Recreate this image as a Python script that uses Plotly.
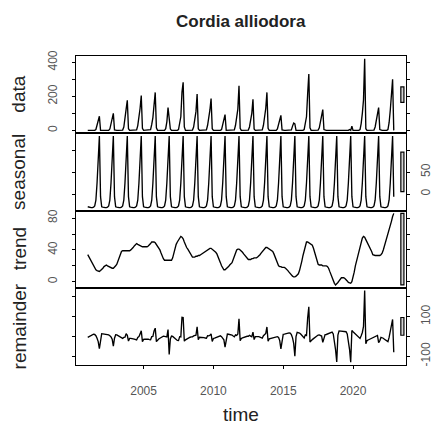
import plotly.graph_objects as go

# ---------------- data (monthly, Jan..Dec) ----------------
start_year = 2001
data_by_year = {
    2001: [0, 0, 0, 0, 0, 0, 0, 5, 30, 59, 83, 0],
    2002: [0, 0, 0, 0, 0, 0, 0, 8, 40, 75, 100, 3],
    2003: [0, 0, 0, 0, 0, 0, 2, 20, 60, 125, 177, 10],
    2004: [0, 0, 0, 0, 0, 0, 3, 28, 70, 130, 205, 12],
    2005: [0, 0, 0, 0, 0, 0, 4, 35, 75, 150, 223, 15],
    2006: [0, 0, 0, 0, 0, 0, 0, 10, 50, 134, 68, 8],
    2007: [0, 0, 0, 0, 0, 0, 5, 40, 80, 225, 282, 20],
    2008: [0, 0, 0, 0, 0, 0, 2, 20, 60, 110, 213, 10],
    2009: [0, 0, 0, 0, 0, 0, 3, 30, 70, 120, 187, 10],
    2010: [0, 0, 0, 0, 0, 0, 0, 5, 35, 70, 93, 0],
    2011: [0, 0, 0, 0, 0, 0, 3, 30, 70, 125, 262, 12],
    2012: [0, 0, 0, 0, 0, 0, 2, 20, 55, 100, 183, 8],
    2013: [0, 0, 0, 0, 0, 0, 3, 30, 75, 130, 223, 12],
    2014: [0, 0, 0, 0, 0, 0, 0, 8, 40, 70, 88, 3],
    2015: [0, 0, 0, 0, 0, 0, 0, 3, 25, 43, 38, 0],
    2016: [0, 0, 0, 0, 0, 0, 5, 40, 80, 215, 331, 15],
    2017: [0, 0, 0, 0, 0, 0, 2, 15, 50, 95, 122, 5],
    2018: [0, 0, 0, 0, 0, 0, 0, 0, 0, 0, 0, 0],
    2019: [0, 0, 0, 0, 0, 0, 0, 0, 0, 5, 0, 24],
    2020: [0, 0, 0, 0, 0, 0, 5, 40, 100, 180, 420, 10],
    2021: [0, 0, 0, 0, 0, 0, 2, 20, 60, 110, 134, 5],
    2022: [0, 0, 0, 0, 0, 0, 5, 45, 118, 190, 300, 0],
}

trend_by_year = {
    2001: [34, 31, 28, 25, 22, 19, 17, 15, 14, 13, 13, 14],
    2002: [15, 17, 19, 20, 21, 20, 19, 18, 17, 17, 17, 18],
    2003: [20, 22, 26, 30, 34, 38, 39, 39, 39, 39, 39, 39],
    2004: [39, 40, 41, 43, 45, 47, 48, 47, 46, 45, 44, 44],
    2005: [44, 44, 44, 44, 45, 46, 48, 50, 50, 50, 49, 47],
    2006: [45, 43, 40, 36, 32, 29, 27, 27, 27, 27, 27, 27],
    2007: [27, 30, 36, 42, 47, 50, 53, 55, 57, 56, 54, 50],
    2008: [46, 43, 41, 38, 35, 32, 31, 31, 31, 32, 32, 33],
    2009: [33, 34, 35, 36, 37, 38, 39, 40, 42, 42, 42, 41],
    2010: [39, 38, 37, 35, 32, 28, 24, 20, 17, 15, 15, 16],
    2011: [17, 19, 21, 22, 24, 28, 32, 36, 40, 41, 41, 40],
    2012: [39, 37, 35, 33, 31, 29, 28, 28, 28, 29, 29, 30],
    2013: [30, 30, 31, 32, 34, 36, 38, 40, 42, 43, 43, 42],
    2014: [41, 40, 39, 38, 35, 31, 27, 23, 20, 19, 19, 18],
    2015: [18, 18, 17, 16, 14, 12, 10, 8, 7, 6, 6, 7],
    2016: [8, 10, 14, 19, 26, 33, 40, 46, 50, 50, 49, 49],
    2017: [48, 46, 42, 37, 31, 25, 22, 21, 21, 21, 20, 20],
    2018: [20, 20, 19, 17, 13, 9, 5, 1, -2, -4, -3, -1],
    2019: [1, 3, 5, 5, 5, 4, 3, 1, -1, -2, -2, 0],
    2020: [5, 12, 20, 26, 30, 35, 42, 50, 55, 57, 56, 53],
    2021: [50, 48, 46, 42, 38, 34, 33, 33, 33, 33, 33, 33],
    2022: [34, 36, 40, 45, 50, 55, 58, 64, 70, 76, 82, 86],
}

# periodic seasonal component (Jan..Dec)
seasonal_pattern = [-29, -30, -31, -31, -31, -30, -27, -14, 25, 72, 132, -6]

x_tick_vals = [2005, 2010, 2015, 2020]
y_ticks = {
    "data": ([0, 100, 200, 300, 400], ["0", "", "200", "", "400"]),
    "seasonal": ([0, 50, 100], ["0", "50", ""]),
    "trend": ([0, 20, 40, 60, 80], ["0", "", "40", "", "80"]),
    "remainder": ([-100, 0, 100, 200], ["-100", "", "100", ""]),
}
panel_names = ["data", "seasonal", "trend", "remainder"]
title_text = "Cordia alliodora"
x_title = "time"

# ---------------- assemble series ----------------
years = sorted(data_by_year)
data = [v for y in years for v in data_by_year[y]]
trend = [v for y in years for v in trend_by_year[y]]
seasonal = seasonal_pattern * len(years)
remainder = [d - s - t for d, s, t in zip(data, seasonal, trend)]
time = [start_year + i / 12 for i in range(len(data))]
series = {"data": data, "seasonal": seasonal, "trend": trend, "remainder": remainder}

# ---------------- layout geometry (pixels) ----------------
W, H = 433, 429
left, right = 75.5, 406
top, bottom = 56, 365
ph = (bottom - top) / 4

t0, t1 = time[0], time[-1]
xpad = 0.04 * (t1 - t0)
xr = [t0 - xpad, t1 + xpad]

mx = min(max(v) - min(v) for v in series.values())
dx = (xr[1] - xr[0]) / 64

fig = go.Figure()
shapes = []
annotations = []
FONT = "Liberation Sans, Arial, sans-serif"
tickfont = dict(family=FONT, size=12, color="#555")

for k, name in enumerate(panel_names):
    vals = series[name]
    lo, hi = min(vals), max(vals)
    r = hi - lo
    yr = [lo - 0.04 * r, hi + 0.04 * r]
    sfx = "" if k == 0 else str(k + 1)
    fig.add_trace(go.Scatter(x=time, y=vals, mode="lines",
                             line=dict(color="black", width=1.35),
                             xaxis="x" + sfx, yaxis="y" + sfx,
                             showlegend=False, hoverinfo="skip"))
    pt = top + k * ph
    pb = top + (k + 1) * ph
    last = (k == 3)
    xa = dict(domain=[left / W, right / W], range=xr, anchor="y" + sfx,
              showline=True, mirror=True, linecolor="black", linewidth=1,
              showgrid=False, zeroline=False, automargin=False,
              ticks="outside" if last else "", ticklen=3, tickcolor="black",
              tickvals=x_tick_vals if last else [],
              showticklabels=last, tickfont=tickfont,
              ticklabelstandoff=12)
    tv, tt = y_ticks[name]
    on_right = (k % 2 == 1)
    ya = dict(domain=[1 - pb / H, 1 - pt / H], range=yr, anchor="x" + sfx,
              showline=True, mirror="ticks", linecolor="black", linewidth=1,
              showgrid=False, zeroline=False, automargin=False,
              ticks="outside", ticklen=3, tickcolor="black",
              tickvals=tv, ticktext=tt, tickangle=-90,
              side="right" if on_right else "left",
              tickfont=tickfont, ticklabelstandoff=6 if on_right else 10)
    fig.layout["xaxis" + sfx] = xa
    fig.layout["yaxis" + sfx] = ya
    # range bar
    mid = (lo + hi) / 2
    shapes.append(dict(type="rect", xref="x" + sfx, yref="y" + sfx,
                       x0=xr[1] - dx, x1=xr[1] - 0.4 * dx,
                       y0=mid - mx / 2, y1=mid + mx / 2,
                       line=dict(color="black", width=1.2), fillcolor="#d3d3d3"))
    # panel label
    annotations.append(dict(text=name, xref="paper", yref="paper",
                            x=19 / W, y=1 - (pt + pb) / 2 / H,
                            textangle=-90, showarrow=False,
                            xanchor="center", yanchor="middle",
                            font=dict(family=FONT, size=19, color="#222")))

annotations.append(dict(text="<b>" + title_text + "</b>", xref="paper", yref="paper",
                        x=(left + right) / 2 / W, y=1 - 21 / H, showarrow=False,
                        xanchor="center", yanchor="middle",
                        font=dict(family=FONT, size=17, color="#222")))
annotations.append(dict(text=x_title, xref="paper", yref="paper",
                        x=(left + right) / 2 / W, y=2 / H, showarrow=False,
                        xanchor="center", yanchor="bottom",
                        font=dict(family=FONT, size=19, color="#222")))

fig.update_layout(width=W, height=H, autosize=False,
                  margin=dict(l=0, r=0, t=0, b=0, pad=0, autoexpand=False),
                  paper_bgcolor="white", plot_bgcolor="white",
                  shapes=shapes, annotations=annotations)

fig.write_html("out.html")
